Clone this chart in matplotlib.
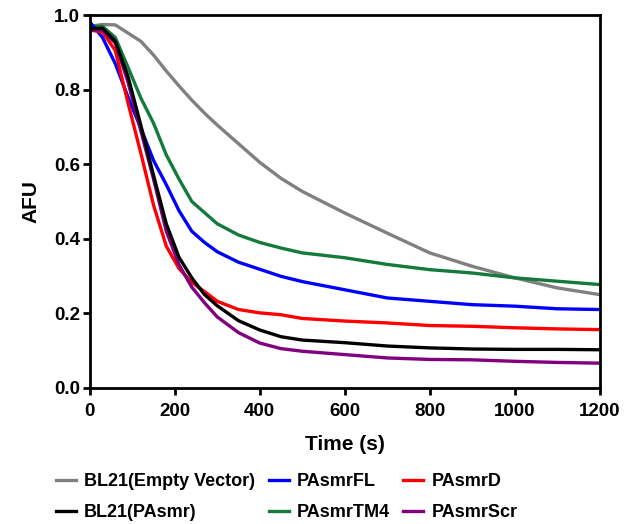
import matplotlib.pyplot as plt

plt.rcParams['font.family'] = ['Liberation Sans', 'DejaVu Sans']
plt.rcParams['font.weight'] = 'bold'

# time points (s)
time = [0, 30, 60, 90, 120, 150, 180, 210, 240, 270, 300, 350, 400,
        450, 500, 600, 700, 800, 900, 1000, 1100, 1200]

empty_vector = [0.97, 0.975, 0.974, 0.952, 0.93, 0.893, 0.85, 0.81, 0.772, 0.737, 0.705, 0.655,
                0.605, 0.562, 0.527, 0.469, 0.415, 0.362, 0.326, 0.295, 0.268, 0.25]
pasmr = [0.964, 0.965, 0.93, 0.835, 0.705, 0.57, 0.44, 0.35, 0.295, 0.25, 0.22, 0.18, 0.155,
         0.137, 0.128, 0.121, 0.112, 0.107, 0.104, 0.103, 0.103, 0.102]
pasmr_fl = [0.982, 0.94, 0.87, 0.78, 0.697, 0.61, 0.545, 0.475, 0.42, 0.39, 0.365, 0.337, 0.318,
            0.299, 0.285, 0.263, 0.241, 0.232, 0.223, 0.219, 0.212, 0.21]
pasmr_tm4 = [0.97, 0.97, 0.94, 0.86, 0.778, 0.71, 0.625, 0.56, 0.50, 0.47, 0.44, 0.41, 0.39,
             0.375, 0.362, 0.349, 0.331, 0.317, 0.308, 0.295, 0.286, 0.277]
pasmr_d = [0.96, 0.955, 0.905, 0.764, 0.63, 0.49, 0.38, 0.32, 0.283, 0.258, 0.232, 0.21, 0.201,
           0.196, 0.186, 0.179, 0.174, 0.167, 0.165, 0.161, 0.158, 0.156]
pasmr_scr = [0.96, 0.96, 0.925, 0.82, 0.69, 0.56, 0.42, 0.33, 0.27, 0.228, 0.19, 0.148, 0.12,
             0.105, 0.098, 0.089, 0.08, 0.076, 0.075, 0.071, 0.068, 0.066]

fig = plt.figure(figsize=(6.28, 5.24), dpi=100)
ax = fig.add_axes([0.143, 0.26, 0.812, 0.711])

lw = 2.4
l_ev, = ax.plot(time, empty_vector, color='#808080', lw=lw, label='BL21(Empty Vector)')
l_tm4, = ax.plot(time, pasmr_tm4, color='#137a3c', lw=lw, label='PAsmrTM4')
l_fl, = ax.plot(time, pasmr_fl, color='#0000ff', lw=lw, label='PAsmrFL')
l_d, = ax.plot(time, pasmr_d, color='#ff0000', lw=lw, label='PAsmrD')
l_scr, = ax.plot(time, pasmr_scr, color='#800080', lw=lw, label='PAsmrScr')
l_pa, = ax.plot(time, pasmr, color='black', lw=lw, label='BL21(PAsmr)')

ax.set_xlim(0, 1200)
ax.set_ylim(0, 1.0)
ax.set_xticks([0, 200, 400, 600, 800, 1000, 1200])
ax.set_yticks([0.0, 0.2, 0.4, 0.6, 0.8, 1.0])
ax.set_yticklabels(['0.0', '0.2', '0.4', '0.6', '0.8', '1.0'])
ax.tick_params(direction='out', length=5, width=2, labelsize=13.5)
ax.tick_params(axis='x', top=False, pad=6)
ax.tick_params(axis='y', right=False, pad=2)
for s in ax.spines.values():
    s.set_linewidth(2)

ax.set_xlabel('Time (s)', fontsize=15, fontweight='bold', labelpad=11)
ax.set_ylabel('AFU', fontsize=15, fontweight='bold', labelpad=10)

handles = [l_ev, l_pa, l_fl, l_tm4, l_d, l_scr]
fig.legend(handles=handles, labels=[h.get_label() for h in handles],
           loc='upper left', bbox_to_anchor=(0.075, 0.114), ncol=3, frameon=False,
           borderpad=0, fontsize=13, handlelength=1.1, columnspacing=0.75,
           handletextpad=0.45, labelspacing=0.75)

fig.savefig('out.png', dpi=100)
